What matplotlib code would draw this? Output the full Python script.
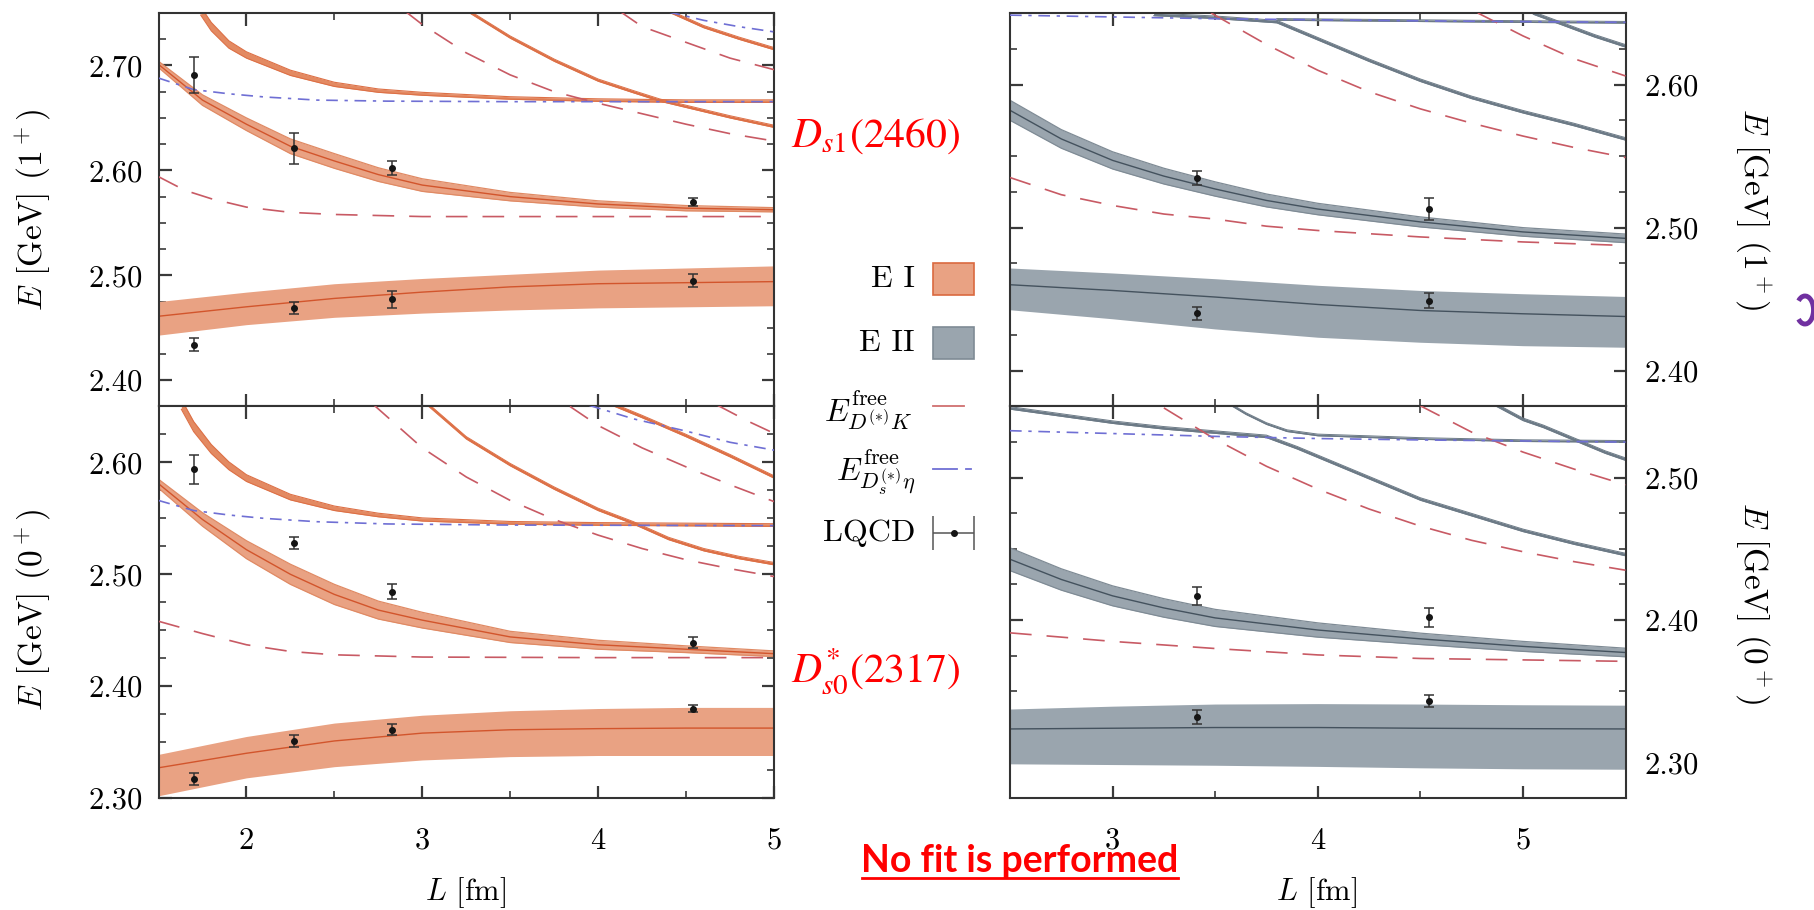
import numpy as np
import matplotlib
matplotlib.use('Agg')
import matplotlib.pyplot as plt
from matplotlib.ticker import MultipleLocator, FormatStrFormatter
from matplotlib.patches import Rectangle, Arc

# ---------------- data ----------------
# top left: 1+ channel, E I
TL_ground_L = [1.5, 2.0, 2.5, 3.0, 3.5, 4.0, 4.5, 5.0]
TL_ground = [2.461, 2.470, 2.478, 2.484, 2.489, 2.492, 2.493, 2.494]
TL_ground_hi = [2.475, 2.484, 2.492, 2.497, 2.501, 2.505, 2.507, 2.509]
TL_ground_lo = [2.443, 2.453, 2.460, 2.464, 2.467, 2.469, 2.470, 2.471]
TL_lev2_L = [1.5, 1.75, 2.0, 2.25, 2.5, 2.75, 3.0, 3.5, 4.0, 4.5, 5.0]
TL_lev2 = [2.701, 2.667, 2.644, 2.623, 2.609, 2.596, 2.586, 2.575, 2.568, 2.564, 2.5625]
TL_lev2_hw = [0.003, 0.005, 0.006, 0.007, 0.007, 0.0065, 0.006, 0.004, 0.003, 0.0025, 0.002]
TL_lev3_L = [1.74, 1.8, 1.9, 2.0, 2.25, 2.5, 2.75, 3.0, 3.5, 4.0, 4.5, 5.0]
TL_lev3 = [2.752, 2.737, 2.720, 2.710, 2.693, 2.682, 2.676, 2.673, 2.669, 2.667, 2.666, 2.666]
TL_lev3_hw = [0.004, 0.004, 0.0035, 0.003, 0.0025, 0.002, 0.0016, 0.0014, 0.0012, 0.0012, 0.0012, 0.0012]
TL_lev4_L = [3.26, 3.5, 3.75, 4.0, 4.2, 4.35, 4.5, 4.75, 5.0]
TL_lev4 = [2.752, 2.727, 2.705, 2.686, 2.675, 2.667, 2.661, 2.651, 2.642]
TL_lev5_L = [4.40, 4.6, 4.8, 5.0]
TL_lev5 = [2.752, 2.737, 2.726, 2.716]
TL_dk1_L = [1.5, 1.65, 1.8, 2.0, 2.25, 2.5, 3.0, 4.0, 5.0]
TL_dk1 = [2.594, 2.581, 2.573, 2.565, 2.560, 2.558, 2.556, 2.556, 2.556]
TL_dk2_L = [2.9, 3.0, 3.25, 3.5, 3.75, 4.0, 4.25, 4.5, 4.75, 5.0]
TL_dk2 = [2.752, 2.739, 2.712, 2.691, 2.675, 2.664, 2.654, 2.644, 2.635, 2.628]
TL_dk3_L = [4.12, 4.25, 4.5, 4.75, 5.0]
TL_dk3 = [2.752, 2.737, 2.722, 2.707, 2.696]
TL_eta1_L = [1.5, 1.7, 1.9, 2.1, 2.4, 2.8, 3.5, 5.0]
TL_eta1 = [2.688, 2.677, 2.673, 2.670, 2.667, 2.666, 2.6655, 2.6655]
TL_eta2_L = [4.40, 4.6, 4.8, 5.0]
TL_eta2 = [2.751, 2.743, 2.737, 2.732]
TL_pts_L = [1.70, 1.70, 2.27, 2.27, 2.83, 2.83, 4.54, 4.54]
TL_pts_E = [2.691, 2.434, 2.621, 2.469, 2.602, 2.477, 2.570, 2.495]
TL_pts_err = [0.017, 0.006, 0.015, 0.006, 0.0065, 0.008, 0.004, 0.006]

# bottom left: 0+ channel, E I
BL_ground_L = [1.5, 2.0, 2.5, 3.0, 3.5, 4.0, 4.5, 5.0]
BL_ground = [2.327, 2.340, 2.351, 2.358, 2.361, 2.362, 2.3625, 2.3625]
BL_ground_hi = [2.339, 2.355, 2.367, 2.374, 2.378, 2.380, 2.381, 2.381]
BL_ground_lo = [2.302, 2.318, 2.328, 2.334, 2.337, 2.338, 2.338, 2.338]
BL_lev2_L = [1.5, 1.75, 2.0, 2.25, 2.5, 2.75, 3.0, 3.5, 4.0, 4.5, 5.0]
BL_lev2 = [2.581, 2.549, 2.522, 2.500, 2.482, 2.468, 2.459, 2.444, 2.437, 2.433, 2.429]
BL_lev2_hw = [0.004, 0.006, 0.008, 0.009, 0.009, 0.008, 0.007, 0.005, 0.004, 0.003, 0.0025]
BL_lev3_L = [1.63, 1.7, 1.8, 1.9, 2.0, 2.25, 2.5, 2.75, 3.0, 3.5, 4.0, 5.0]
BL_lev3 = [2.652, 2.632, 2.612, 2.597, 2.586, 2.569, 2.559, 2.553, 2.549, 2.546, 2.545, 2.544]
BL_lev3_hw = [0.0045, 0.0045, 0.004, 0.0035, 0.003, 0.0025, 0.002, 0.0016, 0.0014, 0.0012, 0.0012, 0.0012]
BL_lev4_L = [3.03, 3.25, 3.5, 3.75, 4.0, 4.2, 4.4, 4.6, 4.8, 5.0]
BL_lev4 = [2.652, 2.622, 2.598, 2.577, 2.558, 2.546, 2.532, 2.522, 2.515, 2.5095]
BL_lev5_L = [4.08, 4.25, 4.5, 4.75, 5.0]
BL_lev5 = [2.652, 2.641, 2.624, 2.606, 2.587]
BL_dk1_L = [1.5, 1.75, 2.0, 2.25, 2.5, 3.0, 4.0, 5.0]
BL_dk1 = [2.458, 2.447, 2.437, 2.431, 2.428, 2.426, 2.4255, 2.4255]
BL_dk2_L = [2.72, 3.0, 3.25, 3.5, 3.75, 4.0, 4.25, 4.5, 4.75, 5.0]
BL_dk2 = [2.652, 2.613, 2.587, 2.566, 2.549, 2.535, 2.523, 2.513, 2.505, 2.498]
BL_dk3_L = [3.84, 4.0, 4.25, 4.5, 4.75, 5.0]
BL_dk3 = [2.650, 2.633, 2.613, 2.596, 2.580, 2.565]
BL_dk4_L = [4.68, 4.85, 5.0]
BL_dk4 = [2.651, 2.637, 2.626]
BL_eta1_L = [1.5, 1.7, 1.9, 2.1, 2.4, 2.8, 3.5, 5.0]
BL_eta1 = [2.566, 2.557, 2.553, 2.550, 2.547, 2.545, 2.544, 2.5435]
BL_eta2_L = [3.95, 4.2, 4.5, 4.75, 5.0]
BL_eta2 = [2.651, 2.639, 2.628, 2.618, 2.611]
BL_pts_L = [1.70, 1.70, 2.27, 2.27, 2.83, 2.83, 4.54, 4.54]
BL_pts_E = [2.594, 2.317, 2.528, 2.351, 2.4845, 2.361, 2.439, 2.380]
BL_pts_err = [0.013, 0.005, 0.005, 0.005, 0.007, 0.005, 0.0045, 0.003]

# top right: 1+ channel, E II
TR_ground_L = [2.5, 3.0, 3.5, 4.0, 4.5, 5.0, 5.5]
TR_ground = [2.4601, 2.4561, 2.4515, 2.4463, 2.4421, 2.4398, 2.4379]
TR_ground_hi = [2.4718, 2.4683, 2.4643, 2.4597, 2.4561, 2.4538, 2.4519]
TR_ground_lo = [2.4426, 2.4363, 2.4292, 2.4234, 2.4199, 2.4175, 2.4164]
TR_lev2_L = [2.5, 2.75, 3.0, 3.25, 3.5, 3.75, 4.0, 4.5, 5.0, 5.5]
TR_lev2 = [2.582, 2.562, 2.547, 2.536, 2.527, 2.519, 2.513, 2.504, 2.497, 2.4925]
TR_lev2_hw = [0.007, 0.0065, 0.006, 0.0055, 0.005, 0.0045, 0.004, 0.0035, 0.003, 0.003]
TR_lev3_L = [3.2, 3.5, 3.8, 4.0, 4.25, 4.5, 4.75, 5.0, 5.25, 5.5]
TR_lev3 = [2.649, 2.647, 2.644, 2.632, 2.617, 2.603, 2.591, 2.581, 2.572, 2.562]
TR_flat_L = [3.8, 4.2, 4.6, 5.0, 5.5]
TR_flat = [2.6455, 2.645, 2.6445, 2.644, 2.6435]
TR_lev4_L = [5.05, 5.2, 5.35, 5.5]
TR_lev4 = [2.650, 2.642, 2.634, 2.627]
TR_dk1_L = [2.5, 2.75, 3.0, 3.25, 3.5, 3.75, 4.0, 4.5, 5.0, 5.5]
TR_dk1 = [2.535, 2.523, 2.5155, 2.5095, 2.506, 2.501, 2.498, 2.4935, 2.490, 2.4875]
TR_dk2_L = [3.48, 3.75, 4.0, 4.25, 4.5, 4.75, 5.0, 5.25, 5.5]
TR_dk2 = [2.650, 2.628, 2.610, 2.595, 2.583, 2.573, 2.564, 2.556, 2.549]
TR_dk3_L = [4.78, 5.0, 5.25, 5.5]
TR_dk3 = [2.650, 2.634, 2.618, 2.606]
TR_eta_L = [2.5, 3.5, 4.5, 5.5]
TR_eta = [2.6485, 2.646, 2.6445, 2.6435]
TR_pts_L = [3.41, 3.41, 4.54, 4.54]
TR_pts_E = [2.5345, 2.440, 2.513, 2.449]
TR_pts_err = [0.005, 0.0045, 0.008, 0.0055]

# bottom right: 0+ channel, E II
BR_ground_L = [2.5, 3.0, 3.5, 4.0, 4.5, 5.0, 5.5]
BR_ground = [2.3235, 2.3240, 2.3245, 2.3245, 2.3240, 2.3237, 2.3235]
BR_ground_hi = [2.3375, 2.3395, 2.3410, 2.3413, 2.3410, 2.3405, 2.3402]
BR_ground_lo = [2.2990, 2.2985, 2.2980, 2.2972, 2.2962, 2.2955, 2.2952]
BR_lev2_L = [2.5, 2.75, 3.0, 3.25, 3.5, 4.0, 4.5, 5.0, 5.5]
BR_lev2 = [2.4427, 2.4285, 2.4170, 2.4085, 2.4015, 2.3930, 2.3868, 2.3815, 2.3772]
BR_lev2_hw = [0.008, 0.0075, 0.007, 0.0065, 0.006, 0.005, 0.004, 0.0035, 0.003]
BR_levA_L = [2.5, 2.75, 3.0, 3.25, 3.5, 3.75, 3.9, 4.0, 4.25, 4.5, 4.75, 5.0, 5.25, 5.5]
BR_levA = [2.549, 2.544, 2.539, 2.535, 2.532, 2.529, 2.521, 2.515, 2.500, 2.485, 2.474, 2.463, 2.454, 2.446]
BR_levB_L = [3.58, 3.65, 3.75, 3.85, 4.0, 4.25, 4.5, 5.0, 5.5]
BR_levB = [2.551, 2.545, 2.538, 2.533, 2.530, 2.5288, 2.5275, 2.526, 2.5255]
BR_levC_L = [4.87, 5.0, 5.1, 5.2, 5.3, 5.4, 5.5]
BR_levC = [2.551, 2.541, 2.536, 2.530, 2.524, 2.518, 2.513]
BR_dk1_L = [2.5, 3.0, 3.5, 4.0, 4.5, 5.0, 5.5]
BR_dk1 = [2.391, 2.385, 2.380, 2.3755, 2.373, 2.372, 2.371]
BR_dk2_L = [3.25, 3.5, 3.75, 4.0, 4.25, 4.5, 4.75, 5.0, 5.25, 5.5]
BR_dk2 = [2.549, 2.527, 2.508, 2.492, 2.478, 2.466, 2.456, 2.448, 2.441, 2.435]
BR_dk3_L = [4.5, 4.75, 5.0, 5.25, 5.5]
BR_dk3 = [2.5505, 2.532, 2.518, 2.506, 2.495]
BR_eta_L = [2.5, 3.0, 3.5, 4.0, 4.5, 5.0, 5.5]
BR_eta = [2.533, 2.531, 2.529, 2.5275, 2.5265, 2.5258, 2.525]
BR_pts_L = [3.41, 3.41, 4.54, 4.54]
BR_pts_E = [2.417, 2.332, 2.4018, 2.343]
BR_pts_err = [0.0065, 0.005, 0.0068, 0.004]

# ---------------- style ----------------
plt.rcParams['font.family'] = 'cmr10'
plt.rcParams['mathtext.fontset'] = 'cm'
plt.rcParams['axes.formatter.use_mathtext'] = True

OR_FILL, OR_EDGE, OR_LINE = '#e9a283', '#da693f', '#d2552c'
OR_THIN = '#dd7046'
GR_FILL, GR_EDGE, GR_LINE = '#9aa5ae', '#66737e', '#44525e'
GR_THIN = '#6c7a86'
DK_COL, ETA_COL = '#c85a64', '#6f6fd4'
DK_LS = (0, (13, 9))
ETA_LS = (0, (7, 4, 2, 4))


def band(ax, L, mid, lo, hi, fill, edge=None, line=None, elw=0.9):
    ax.fill_between(L, lo, hi, color=fill, lw=0, zorder=2)
    if edge:
        ax.plot(L, lo, color=edge, lw=elw, zorder=2.1)
        ax.plot(L, hi, color=edge, lw=elw, zorder=2.1)
    if line:
        ax.plot(L, mid, color=line, lw=1.0, zorder=2.2)


def hwband(ax, L, mid, hw, fill, edge, line=None, elw=0.9):
    mid = np.array(mid)
    hw = np.array(hw)
    band(ax, L, mid, mid - hw, mid + hw, fill, edge, line, elw)


def thin(ax, L, E, col, hw=0.0011):
    hwband(ax, L, E, hw, col, col, elw=0.7)


def setup(ax, xlim, ylim, right=False, bottom=False):
    ax.set_xlim(*xlim)
    ax.set_ylim(*ylim)
    ax.xaxis.set_major_locator(MultipleLocator(1))
    ax.xaxis.set_minor_locator(MultipleLocator(0.5))
    ax.yaxis.set_major_locator(MultipleLocator(0.1))
    ax.yaxis.set_minor_locator(MultipleLocator(0.025))
    ax.yaxis.set_major_formatter(FormatStrFormatter('%.2f'))
    ax.xaxis.set_major_formatter(FormatStrFormatter('%d'))
    ax.tick_params(which='both', direction='in', top=True, right=True,
                   left=True, bottom=True, color='#3a3a3a')
    ax.tick_params(which='major', length=9, width=1.6, labelsize=22)
    ax.tick_params(which='minor', length=5, width=1.2)
    ax.tick_params(axis='x', pad=21, labelbottom=bottom)
    if right:
        ax.tick_params(axis='y', labelleft=False, labelright=True, pad=14)
    else:
        ax.tick_params(axis='y', pad=11)
    for s in ax.spines.values():
        s.set_linewidth(1.5)
        s.set_color('#333333')


def lqcd(ax, L, E, err):
    ax.errorbar(L, E, yerr=err, fmt='o', ms=4, color='#151515', ecolor='#333333',
                elinewidth=1.1, capsize=3.5, capthick=1.1, zorder=6)


fig = plt.figure(figsize=(18.14, 9.10), dpi=100)
ax_tl = fig.add_axes([0.08738, 0.55330, 0.33931, 0.43242])
ax_bl = fig.add_axes([0.08738, 0.12308, 0.33931, 0.43022])
ax_tr = fig.add_axes([0.55678, 0.55330, 0.33931, 0.43242])
ax_br = fig.add_axes([0.55678, 0.12308, 0.33931, 0.43022])

# top left
ax = ax_tl
band(ax, TL_ground_L, TL_ground, TL_ground_lo, TL_ground_hi, OR_FILL, None, OR_LINE)
hwband(ax, TL_lev2_L, TL_lev2, TL_lev2_hw, OR_FILL, '#e08a64', OR_LINE)
hwband(ax, TL_lev3_L, TL_lev3, TL_lev3_hw, '#e38a62', OR_THIN, elw=0.8)
thin(ax, TL_lev4_L, TL_lev4, OR_THIN)
thin(ax, TL_lev5_L, TL_lev5, OR_THIN)
for L, E in [(TL_dk1_L, TL_dk1), (TL_dk2_L, TL_dk2), (TL_dk3_L, TL_dk3)]:
    ax.plot(L, E, color=DK_COL, lw=1.2, ls=DK_LS, zorder=3)
for L, E in [(TL_eta1_L, TL_eta1), (TL_eta2_L, TL_eta2)]:
    ax.plot(L, E, color=ETA_COL, lw=1.2, ls=ETA_LS, zorder=3)
lqcd(ax, TL_pts_L, TL_pts_E, TL_pts_err)
setup(ax, (1.5, 5.0), (2.375, 2.75))

# bottom left
ax = ax_bl
band(ax, BL_ground_L, BL_ground, BL_ground_lo, BL_ground_hi, OR_FILL, None, OR_LINE)
hwband(ax, BL_lev2_L, BL_lev2, BL_lev2_hw, OR_FILL, '#e08a64', OR_LINE)
hwband(ax, BL_lev3_L, BL_lev3, BL_lev3_hw, '#e38a62', OR_THIN, elw=0.8)
thin(ax, BL_lev4_L, BL_lev4, OR_THIN)
thin(ax, BL_lev5_L, BL_lev5, OR_THIN)
for L, E in [(BL_dk1_L, BL_dk1), (BL_dk2_L, BL_dk2), (BL_dk3_L, BL_dk3), (BL_dk4_L, BL_dk4)]:
    ax.plot(L, E, color=DK_COL, lw=1.2, ls=DK_LS, zorder=3)
for L, E in [(BL_eta1_L, BL_eta1), (BL_eta2_L, BL_eta2)]:
    ax.plot(L, E, color=ETA_COL, lw=1.2, ls=ETA_LS, zorder=3)
lqcd(ax, BL_pts_L, BL_pts_E, BL_pts_err)
setup(ax, (1.5, 5.0), (2.30, 2.65), bottom=True)

# top right
ax = ax_tr
band(ax, TR_ground_L, TR_ground, TR_ground_lo, TR_ground_hi, GR_FILL, None, GR_LINE)
hwband(ax, TR_lev2_L, TR_lev2, TR_lev2_hw, GR_FILL, '#7f8b95', GR_LINE)
thin(ax, TR_lev3_L, TR_lev3, GR_THIN, 0.0009)
thin(ax, TR_flat_L, TR_flat, GR_THIN, 0.0006)
thin(ax, TR_lev4_L, TR_lev4, GR_THIN, 0.0009)
for L, E in [(TR_dk1_L, TR_dk1), (TR_dk2_L, TR_dk2), (TR_dk3_L, TR_dk3)]:
    ax.plot(L, E, color=DK_COL, lw=1.2, ls=DK_LS, zorder=3)
ax.plot(TR_eta_L, TR_eta, color=ETA_COL, lw=1.2, ls=ETA_LS, zorder=3)
lqcd(ax, TR_pts_L, TR_pts_E, TR_pts_err)
setup(ax, (2.5, 5.5), (2.375, 2.65), right=True)

# bottom right
ax = ax_br
band(ax, BR_ground_L, BR_ground, BR_ground_lo, BR_ground_hi, GR_FILL, None, GR_LINE)
hwband(ax, BR_lev2_L, BR_lev2, BR_lev2_hw, GR_FILL, '#7f8b95', GR_LINE)
thin(ax, BR_levA_L, BR_levA, GR_THIN, 0.0009)
thin(ax, BR_levB_L, BR_levB, GR_THIN, 0.0006)
thin(ax, BR_levC_L, BR_levC, GR_THIN, 0.0009)
for L, E in [(BR_dk1_L, BR_dk1), (BR_dk2_L, BR_dk2), (BR_dk3_L, BR_dk3)]:
    ax.plot(L, E, color=DK_COL, lw=1.2, ls=DK_LS, zorder=3)
ax.plot(BR_eta_L, BR_eta, color=ETA_COL, lw=1.2, ls=ETA_LS, zorder=3)
lqcd(ax, BR_pts_L, BR_pts_E, BR_pts_err)
setup(ax, (2.5, 5.5), (2.275, 2.55), right=True, bottom=True)

# ---------------- overlay in pixel coordinates: labels, legend, notes ----------------
ov = fig.add_axes([0, 0, 1, 1], zorder=10)
ov.set_xlim(0, 1814)
ov.set_ylim(910, 0)
ov.axis('off')
ov.patch.set_alpha(0)

ylab = dict(fontsize=24, ha='center', va='center')
ov.text(33, 210, r'$E$ [GeV] $(1^+)$', rotation=90, **ylab)
ov.text(33, 610, r'$E$ [GeV] $(0^+)$', rotation=90, **ylab)
ov.text(1753, 209, r'$E$ [GeV] $(1^+)$', rotation=270, **ylab)
ov.text(1753, 603, r'$E$ [GeV] $(0^+)$', rotation=270, **ylab)
ov.text(466, 893, r'$L$ [fm]', fontsize=22, ha='center', va='center')
ov.text(1317, 893, r'$L$ [fm]', fontsize=22, ha='center', va='center')

# legend
leg = dict(fontsize=23, ha='right', va='center')
ov.text(915, 279, 'E I', **leg)
ov.add_patch(Rectangle((933, 263), 41, 32, facecolor=OR_FILL, edgecolor=OR_EDGE, lw=1.2))
ov.text(915, 343, 'E II', **leg)
ov.add_patch(Rectangle((933, 327), 41, 32, facecolor=GR_FILL, edgecolor='#7f8b95', lw=1.2))
ov.text(912, 410, r'$E^{\mathrm{free}}_{D^{(*)}K}$', **leg)
ov.plot([933, 964], [406, 406], color='#d07070', lw=1.3)
ov.text(915, 472, r'$E^{\mathrm{free}}_{D_s^{(*)}\eta}$', **leg)
ov.plot([933, 957], [469, 469], color=ETA_COL, lw=1.3)
ov.plot([966, 971], [469, 469], color=ETA_COL, lw=1.3)
ov.text(915, 533, 'LQCD', **leg)
ov.errorbar([953.5], [533], xerr=[[20.5], [20.5]], fmt='o', ms=4, color='#151515',
            ecolor='#555555', elinewidth=1.1, capsize=12, capthick=1.1)

# red notes
ov.text(791, 147, r'$D_{s1}(2460)$', fontsize=30, color='#ff0000', ha='left',
        va='baseline', math_fontfamily='stix')
ov.text(791, 683, r'$D^{*}_{s0}(2317)$', fontsize=30, color='#ff0000', ha='left',
        va='baseline', math_fontfamily='stix')
ov.text(1020, 872, 'No fit is performed', fontsize=27, color='#ff0000', ha='center',
        va='baseline', family='Lato', weight='bold')
ov.plot([862, 1178], [878, 878], color='#ff0000', lw=2)

ov.add_patch(Arc((1805, 310), 17, 28, theta1=-125, theta2=125, color='#7030a0', lw=3.5))

fig.savefig('out.png', dpi=100)
